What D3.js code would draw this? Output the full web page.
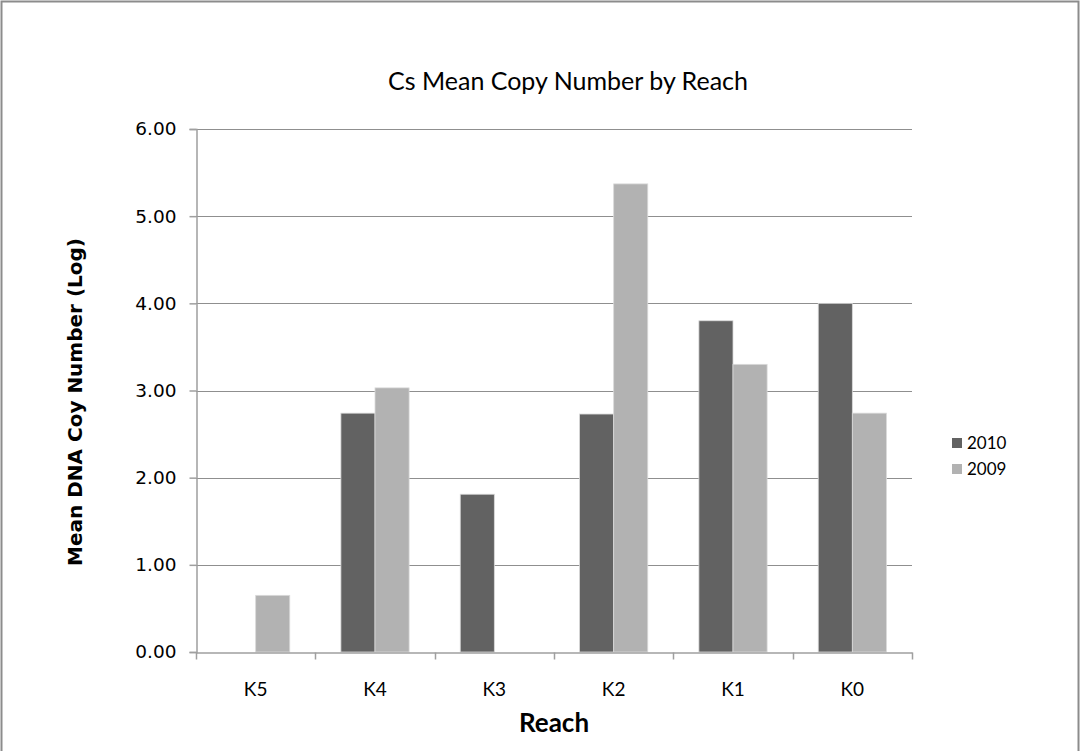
<!DOCTYPE html>
<html>
<head>
<meta charset="utf-8">
<script src="https://cdn.jsdelivr.net/npm/d3@7"></script>
<style>
  html, body { margin: 0; padding: 0; background: #fff; }
  svg { display: block; }
</style>
</head>
<body>
<svg id="chart" width="1080" height="751"></svg>
<script>
const categories = ["K5", "K4", "K3", "K2", "K1", "K0"];
const seriesNames = ["2010", "2009"];
const values2010 = [null, 2.74, 1.81, 2.73, 3.80, 4.00];
const values2009 = [0.65, 3.03, null, 5.37, 3.30, 2.74];
const yTicks = [0, 1, 2, 3, 4, 5, 6];
const colors = ["#626262", "#b2b2b2"];

const svg = d3.select("#chart");
const W = 1080, H = 751;
const plot = { left: 196, right: 912, top: 129, bottom: 652 };

// outer chart border
svg.append("rect").attr("x", 1.5).attr("y", 1.5).attr("width", W - 3).attr("height", H + 10)
  .attr("fill", "#fff").attr("stroke", "#8c8c8c").attr("stroke-width", 2);

const x = d3.scaleBand().domain(categories).range([plot.left, plot.right]).paddingInner(0).paddingOuter(0);
const bw = x.bandwidth() / 3.5; // Excel gap width 150%
const xs = d3.scaleBand().domain(seriesNames).range([0, bw * 2]);
const y = d3.scaleLinear().domain([0, 6]).range([plot.bottom, plot.top]);

// gridlines
svg.append("g").selectAll("line").data(yTicks.filter(d => d > 0)).join("line")
  .attr("x1", plot.left).attr("x2", plot.right)
  .attr("y1", d => Math.round(y(d)) + 0.5).attr("y2", d => Math.round(y(d)) + 0.5)
  .attr("stroke", "#8f8f8f").attr("stroke-width", 1.2);

// bars
const data = [];
categories.forEach((c, i) => {
  [values2010[i], values2009[i]].forEach((v, j) => {
    if (v != null) data.push({ c, s: seriesNames[j], v, j });
  });
});
svg.append("g").selectAll("rect").data(data).join("rect")
  .attr("x", d => x(d.c) + (x.bandwidth() - bw * 2) / 2 + xs(d.s))
  .attr("y", d => y(d.v))
  .attr("width", xs.bandwidth())
  .attr("height", d => y(0) - y(d.v))
  .attr("fill", d => colors[d.j])
  .attr("stroke", "#d9d9d9").attr("stroke-width", 0.8);

// y axis
const yAxis = d3.axisLeft(y).tickValues(yTicks).tickFormat(d3.format(".2f")).tickSize(7).tickPadding(13);
const gy = svg.append("g").attr("transform", `translate(${plot.left + 0.5},0)`).call(yAxis);
gy.select(".domain").attr("stroke", "#9f9f9f").attr("stroke-width", 1.5);
gy.selectAll(".tick line").attr("stroke", "#9f9f9f").attr("stroke-width", 1.5);
gy.selectAll(".tick text").attr("font-family", "DejaVu Sans, Verdana, sans-serif")
  .attr("font-size", 18.5).attr("fill", "#000");

// x axis
const xAxis = d3.axisBottom(x).tickSize(0).tickPadding(30);
const gx = svg.append("g").attr("transform", `translate(0,${plot.bottom + 0.5})`).call(xAxis);
gx.select(".domain").attr("stroke", "#9f9f9f").attr("stroke-width", 1.5);
gx.selectAll(".tick text").attr("font-family", "Lato, sans-serif")
  .attr("font-size", 19).attr("fill", "#000");
// boundary tick marks
const bounds = categories.map(c => x(c)).concat([plot.right]);
gx.append("g").selectAll("line").data(bounds).join("line")
  .attr("x1", d => Math.round(d) + 0.5).attr("x2", d => Math.round(d) + 0.5)
  .attr("y1", 0).attr("y2", 7)
  .attr("stroke", "#9f9f9f").attr("stroke-width", 1.5);

// titles
svg.append("text").attr("x", 568).attr("y", 90).attr("text-anchor", "middle")
  .attr("font-family", "Lato, sans-serif").attr("font-size", 25).attr("fill", "#000")
  .text("Cs Mean Copy Number by Reach");

svg.append("text").attr("x", 554).attr("y", 732).attr("text-anchor", "middle")
  .attr("font-family", "Lato, sans-serif").attr("font-weight", "bold").attr("font-size", 26).attr("fill", "#000")
  .text("Reach");

svg.append("text").attr("transform", `translate(82,402) rotate(-90)`).attr("text-anchor", "middle")
  .attr("font-family", "DejaVu Sans, Verdana, sans-serif").attr("font-weight", "bold").attr("font-size", 20).attr("fill", "#000")
  .text("Mean DNA Coy Number (Log)");

// legend
const leg = svg.append("g").attr("transform", "translate(952,438)");
seriesNames.forEach((s, i) => {
  const g = leg.append("g").attr("transform", `translate(0,${i * 26})`);
  g.append("rect").attr("width", 10).attr("height", 10).attr("fill", colors[i]);
  g.append("text").attr("x", 15).attr("y", 5).attr("dy", "0.35em")
    .attr("font-family", "Lato, sans-serif").attr("font-size", 17).attr("fill", "#000").text(s);
});
</script>
</body>
</html>
